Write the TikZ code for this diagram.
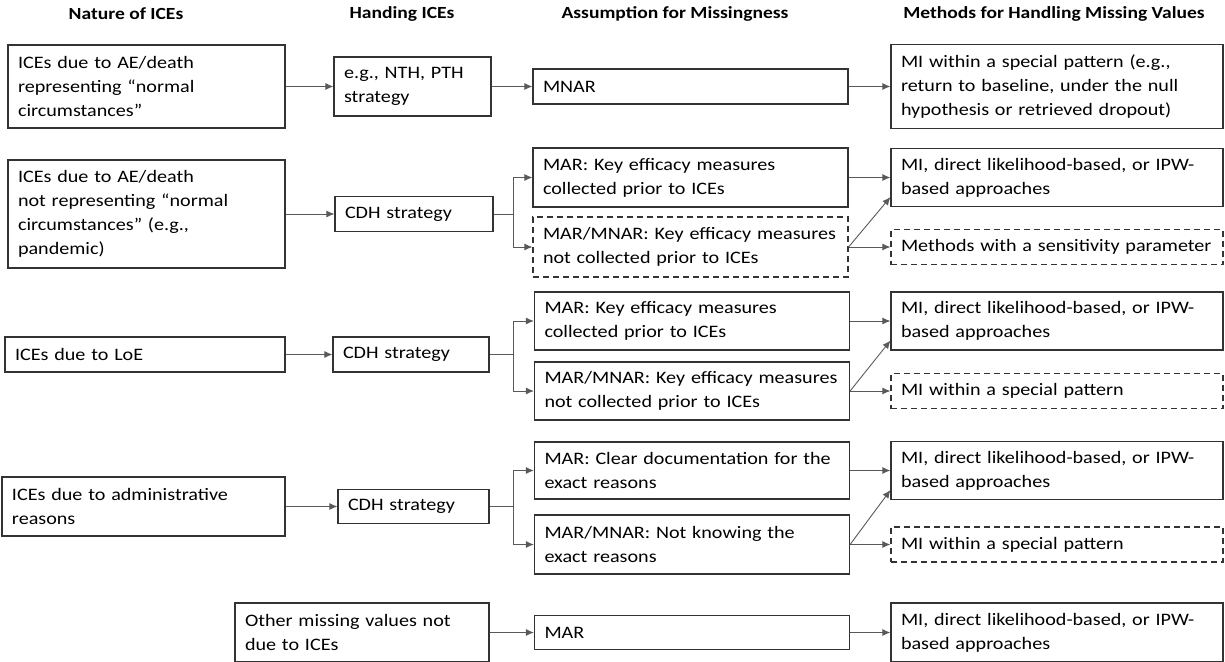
\documentclass[tikz,border=0pt]{standalone}
\usepackage{fontspec}
\setmainfont{Carlito}[FakeStretch=1.15]
\usetikzlibrary{arrows.meta}

\begin{document}
\begin{tikzpicture}[x=1pt, y=-1pt,
    box/.style = {draw=black!80, line width=1.2pt, align=left, inner xsep=10pt, inner ysep=0pt, font=\fontsize{17.5}{24}\selectfont},
    dbox/.style = {box, dash pattern=on 6pt off 4pt},
    head/.style = {font=\bfseries\fontsize{17}{21}\selectfont},
    link/.style = {draw=black!65, line width=0.9pt, -{Latex[length=8pt,width=7pt]}}]
    \useasboundingbox (0,0) rectangle (1225,661);
    % column titles
    \node[head] (t1) at (126,14) {Nature of ICEs};
    \node[head] (t2) at (402,14) {Handing ICEs};
    \node[head] (t3) at (675,14) {Assumption for Missingness};
    \node[head] (t4) at (1054,14) {Methods for Handling Missing Values};
    % row 1
    \node[box, text width=257pt, minimum height=83pt] (a1) at (146.5,86.5) {ICEs due to AE/death\\ representing “normal\\ circumstances”};
    \node[box, text width=137pt, minimum height=59pt] (h1) at (412.5,86.5) {e.g., NTH, PTH\\ strategy};
    \node[box, text width=295pt, minimum height=35pt] (m1) at (690.5,86.5) {MNAR};
    \node[box, text width=312pt, minimum height=84pt] (r1) at (1057,86.5) {MI within a special pattern (e.g.,\\ return to baseline, under the null\\ hypothesis or retrieved dropout)};
    % row 2
    \node[box, text width=257pt, minimum height=108pt] (a2) at (146.5,214) {ICEs due to AE/death\\ not representing “normal\\ circumstances” (e.g.,\\ pandemic)};
    \node[box, text width=138pt, minimum height=35pt] (h2) at (414,214) {CDH strategy};
    \node[box, text width=295pt, minimum height=59pt] (m2a) at (690.5,177.5) {MAR: Key efficacy measures\\ collected prior to ICEs};
    \node[dbox, text width=295pt, minimum height=60pt] (m2b) at (690.5,247) {MAR/MNAR: Key efficacy measures\\ not collected prior to ICEs};
    \node[box, text width=312pt, minimum height=58pt] (r2a) at (1057,177.5) {MI, direct likelihood-based, or IPW-\\ based approaches};
    \node[dbox, text width=312pt, minimum height=35pt] (r2b) at (1057,247) {Methods with a sensitivity parameter};
    % row 3
    \node[box, text width=260pt, minimum height=35pt] (a3) at (145,354.5) {ICEs due to LoE};
    \node[box, text width=136pt, minimum height=35pt] (h3) at (411,354.5) {CDH strategy};
    \node[box, text width=295pt, minimum height=58pt] (m3a) at (692,321) {MAR: Key efficacy measures\\ collected prior to ICEs};
    \node[box, text width=295pt, minimum height=58pt] (m3b) at (692,391) {MAR/MNAR: Key efficacy measures\\ not collected prior to ICEs};
    \node[box, text width=312pt, minimum height=58pt] (r3a) at (1057,321) {MI, direct likelihood-based, or IPW-\\ based approaches};
    \node[dbox, text width=312pt, minimum height=35pt] (r3b) at (1057,391) {MI within a special pattern};
    % row 4
    \node[box, text width=263pt, minimum height=59pt] (a4) at (143.5,506.5) {ICEs due to administrative\\ reasons};
    \node[box, text width=131pt, minimum height=34pt] (h4) at (413.5,506.5) {CDH strategy};
    \node[box, text width=295pt, minimum height=57pt] (m4a) at (692,470.5) {MAR: Clear documentation for the\\ exact reasons};
    \node[box, text width=295pt, minimum height=59pt] (m4b) at (692,544.5) {MAR/MNAR: Not knowing the\\ exact reasons};
    \node[box, text width=312pt, minimum height=58pt] (r4a) at (1057,470.5) {MI, direct likelihood-based, or IPW-\\ based approaches};
    \node[dbox, text width=312pt, minimum height=35pt] (r4b) at (1057,544.5) {MI within a special pattern};
    % row 5
    \node[box, text width=234pt, minimum height=59pt] (a5) at (362,632.5) {Other missing values not\\ due to ICEs};
    \node[box, text width=295pt, minimum height=34pt] (m5) at (692,632.5) {MAR};
    \node[box, text width=312pt, minimum height=59pt] (r5) at (1057,632.5) {MI, direct likelihood-based, or IPW-\\ based approaches};
    % arrows
    \draw[link] (a1.east) -- (h1.west);
    \draw[link] (h1.east) -- (m1.west);
    \draw[link] (m1.east) -- (r1.west);
    \draw[link] (a2.east) -- (h2.west);
    \draw[link] (h2.east) -- ++(20,0) |- (m2a.west);
    \draw[link] (h2.east) -- ++(20,0) |- (m2b.west);
    \draw[link] (m2a.east) -- (r2a.west);
    \draw[link] (m2b.east) -- ([yshift=10pt]r2a.south west);
    \draw[link] (m2b.east) -- (r2b.west);
    \draw[link] (a3.east) -- (h3.west);
    \draw[link] (h3.east) -- ++(24,0) |- (m3a.west);
    \draw[link] (h3.east) -- ++(24,0) |- (m3b.west);
    \draw[link] (m3a.east) -- (r3a.west);
    \draw[link] (m3b.east) -- ([yshift=10pt]r3a.south west);
    \draw[link] (m3b.east) -- (r3b.west);
    \draw[link] (a4.east) -- (h4.west);
    \draw[link] (h4.east) -- ++(24,0) |- (m4a.west);
    \draw[link] (h4.east) -- ++(24,0) |- (m4b.west);
    \draw[link] (m4a.east) -- (r4a.west);
    \draw[link] (m4b.east) -- ([yshift=10pt]r4a.south west);
    \draw[link] (m4b.east) -- (r4b.west);
    \draw[link] (a5.east) -- (m5.west);
    \draw[link] (m5.east) -- (r5.west);
\end{tikzpicture}
\end{document}
